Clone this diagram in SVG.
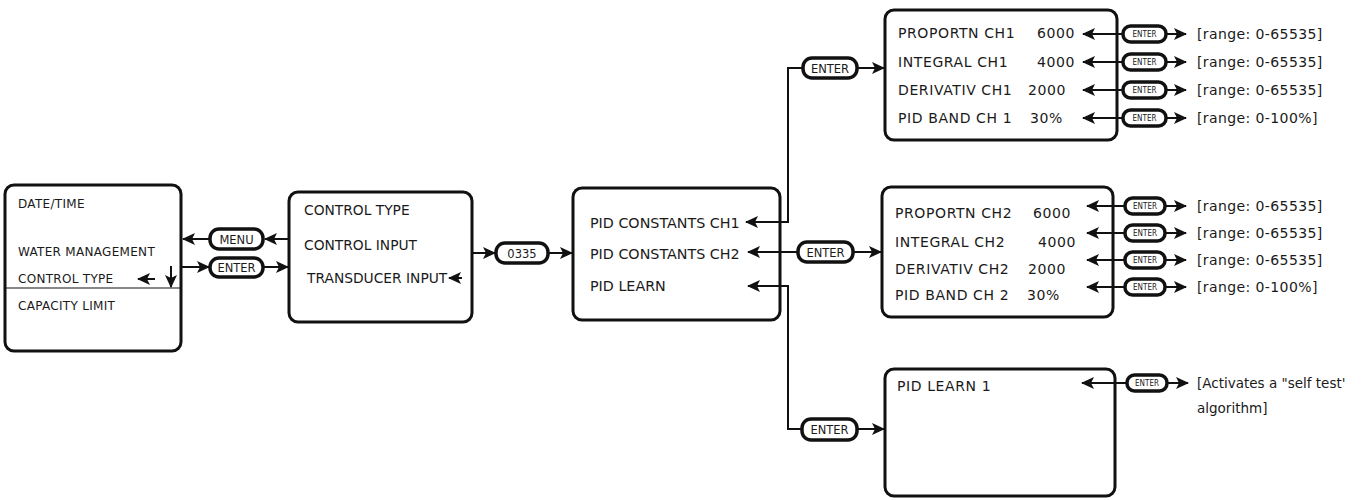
<svg xmlns="http://www.w3.org/2000/svg" width="1364" height="500" viewBox="0 0 1364 500">
<style>
.box{fill:#fff;stroke:#111;stroke-width:3}
.pill{fill:#fff;stroke:#111;stroke-width:3.5}
.t{font-family:"DejaVu Sans","Liberation Sans",sans-serif;fill:#1a1a1a}
.s11{font-size:12px;letter-spacing:0.3px}
.s12{font-size:14px;letter-spacing:0.6px}
.s13{font-size:13.8px}
.s14{font-size:14.3px}
.r{font-size:14px;letter-spacing:0.4px}
.a{font-size:13.5px}
.pt{font-family:"DejaVu Sans","Liberation Sans",sans-serif;font-size:11.5px;fill:#1a1a1a;text-anchor:middle}
.sp{font-family:"DejaVu Sans Condensed","DejaVu Sans",sans-serif;font-size:8px;fill:#1a1a1a;text-anchor:middle}
.c line,.c path{stroke:#111;stroke-width:2;fill:none}
</style>
<defs>
<marker id="ah" markerUnits="userSpaceOnUse" markerWidth="14" markerHeight="12" refX="12" refY="6" orient="auto">
<path d="M0,0 L13,6 L0,12 L3,6 z" fill="#111"/>
</marker>
</defs>
<rect width="1364" height="500" fill="#fff"/>

<g id="box1">
<rect class="box" x="5" y="185" width="176" height="166" rx="9"/>
<line x1="5" y1="288" x2="181" y2="288" stroke="#111" stroke-width="1.2"/>
<text class="t s11" x="18" y="208">DATE/TIME</text>
<text class="t s11" x="18" y="256">WATER MANAGEMENT</text>
<text class="t s11" x="18" y="283">CONTROL TYPE</text>
<text class="t s11" x="18" y="310">CAPACITY LIMIT</text>
</g>

<g id="menu">
<rect class="pill" x="210" y="229" width="53" height="20" rx="9"/>
<text class="pt" x="236.5" y="243.5">MENU</text>
</g>
<g id="enter-left">
<rect class="pill" x="210" y="258" width="53" height="19" rx="9"/>
<text class="pt" x="236.5" y="272">ENTER</text>
</g>

<g id="box2">
<rect class="box" x="289" y="192" width="183" height="130" rx="9"/>
<text class="t s13" x="304" y="215">CONTROL TYPE</text>
<text class="t s13" x="304" y="250">CONTROL INPUT</text>
<text class="t s13" x="307" y="283">TRANSDUCER INPUT</text>
</g>

<g id="code">
<rect class="pill" x="496" y="243" width="52" height="20" rx="9"/>
<text class="pt" x="522" y="257.5">0335</text>
</g>

<g id="box3">
<rect class="box" x="573" y="188" width="207" height="132" rx="9"/>
<text class="t s14" x="590" y="228">PID CONSTANTS CH1</text>
<text class="t s14" x="590" y="259">PID CONSTANTS CH2</text>
<text class="t s14" x="590" y="291">PID LEARN</text>
</g>

<g id="enter-ch1">
<rect class="pill" x="803" y="58" width="54" height="20" rx="9"/>
<text class="pt" x="830" y="72.5">ENTER</text>
</g>
<g id="enter-ch2">
<rect class="pill" x="798" y="242" width="55" height="20" rx="9"/>
<text class="pt" x="825.5" y="256.5">ENTER</text>
</g>
<g id="enter-learn">
<rect class="pill" x="802" y="419" width="55" height="21" rx="9"/>
<text class="pt" x="829.5" y="434">ENTER</text>
</g>

<g id="box-ch1">
<rect class="box" x="885" y="10" width="232" height="130" rx="9"/>
<text class="t s12" x="898" y="38">PROPORTN CH1</text>
<text class="t s12" x="1037" y="38">6000</text>
<text class="t s12" x="898" y="67">INTEGRAL CH1</text>
<text class="t s12" x="1037" y="67">4000</text>
<text class="t s12" x="898" y="95">DERIVATIV CH1</text>
<text class="t s12" x="1028" y="95">2000</text>
<text class="t s12" x="898" y="123">PID BAND CH 1</text>
<text class="t s12" x="1030" y="123">30%</text>
</g>

<g id="ch1-enters">
<rect class="pill" x="1123" y="26" width="43" height="16" rx="7.5"/><text class="sp" x="1144.5" y="37">ENTER</text>
<rect class="pill" x="1123" y="54" width="43" height="16" rx="7.5"/><text class="sp" x="1144.5" y="65">ENTER</text>
<rect class="pill" x="1123" y="82" width="43" height="16" rx="7.5"/><text class="sp" x="1144.5" y="93">ENTER</text>
<rect class="pill" x="1123" y="110" width="43" height="16" rx="7.5"/><text class="sp" x="1144.5" y="121">ENTER</text>
<text class="t r" x="1197" y="39">[range: 0-65535]</text>
<text class="t r" x="1197" y="67">[range: 0-65535]</text>
<text class="t r" x="1197" y="95">[range: 0-65535]</text>
<text class="t r" x="1197" y="123">[range: 0-100%]</text>
</g>

<g id="box-ch2">
<rect class="box" x="882" y="187" width="231" height="130" rx="9"/>
<text class="t s12" x="895" y="218">PROPORTN CH2</text>
<text class="t s12" x="1033" y="218">6000</text>
<text class="t s12" x="895" y="247">INTEGRAL CH2</text>
<text class="t s12" x="1038" y="247">4000</text>
<text class="t s12" x="895" y="274">DERIVATIV CH2</text>
<text class="t s12" x="1028" y="274">2000</text>
<text class="t s12" x="895" y="300">PID BAND CH 2</text>
<text class="t s12" x="1027" y="300">30%</text>
</g>

<g id="ch2-enters">
<rect class="pill" x="1125" y="198" width="40" height="16" rx="7.5"/><text class="sp" x="1145" y="209">ENTER</text>
<rect class="pill" x="1125" y="225" width="40" height="16" rx="7.5"/><text class="sp" x="1145" y="236">ENTER</text>
<rect class="pill" x="1125" y="252" width="40" height="16" rx="7.5"/><text class="sp" x="1145" y="263">ENTER</text>
<rect class="pill" x="1125" y="279" width="40" height="16" rx="7.5"/><text class="sp" x="1145" y="290">ENTER</text>
<text class="t r" x="1197" y="211">[range: 0-65535]</text>
<text class="t r" x="1197" y="238">[range: 0-65535]</text>
<text class="t r" x="1197" y="265">[range: 0-65535]</text>
<text class="t r" x="1197" y="292">[range: 0-100%]</text>
</g>

<g id="box-learn">
<rect class="box" x="885" y="369" width="230" height="127" rx="9"/>
<text class="t s12" x="897" y="391">PID LEARN 1</text>
</g>

<g id="learn-enter">
<rect class="pill" x="1127" y="375" width="40" height="16" rx="7.5"/><text class="sp" x="1147" y="386">ENTER</text>
<text class="t a" x="1197" y="388">[Activates a "self test'</text>
<text class="t a" x="1197" y="413">algorithm]</text>
</g>

<g id="connectors" class="c">
<line x1="289" y1="239" x2="265" y2="239" marker-end="url(#ah)"/>
<line x1="210" y1="239" x2="183" y2="239" marker-end="url(#ah)"/>
<line x1="182" y1="267" x2="209" y2="267" marker-end="url(#ah)"/>
<line x1="264" y1="267" x2="288" y2="267" marker-end="url(#ah)"/>
<line x1="155" y1="279" x2="138" y2="279" marker-end="url(#ah)"/>
<line x1="171" y1="266" x2="171" y2="287" marker-end="url(#ah)"/>
<line x1="462" y1="278" x2="449" y2="278" marker-end="url(#ah)"/>
<line x1="472" y1="253" x2="495" y2="253" marker-end="url(#ah)"/>
<line x1="548" y1="253" x2="572" y2="253" marker-end="url(#ah)"/>
<path d="M803,68 L788,68 L788,222 L746,222" marker-end="url(#ah)"/>
<line x1="857" y1="68" x2="884" y2="68" marker-end="url(#ah)"/>
<line x1="798" y1="252" x2="748" y2="252" marker-end="url(#ah)"/>
<line x1="853" y1="252" x2="881" y2="252" marker-end="url(#ah)"/>
<path d="M802,429 L788,429 L788,286 L748,286" marker-end="url(#ah)"/>
<line x1="857" y1="429" x2="884" y2="429" marker-end="url(#ah)"/>
<line x1="1123" y1="34" x2="1083" y2="34" marker-end="url(#ah)"/>
<line x1="1166" y1="34" x2="1186" y2="34" marker-end="url(#ah)"/>
<line x1="1123" y1="62" x2="1083" y2="62" marker-end="url(#ah)"/>
<line x1="1166" y1="62" x2="1186" y2="62" marker-end="url(#ah)"/>
<line x1="1123" y1="90" x2="1083" y2="90" marker-end="url(#ah)"/>
<line x1="1166" y1="90" x2="1186" y2="90" marker-end="url(#ah)"/>
<line x1="1123" y1="118" x2="1083" y2="118" marker-end="url(#ah)"/>
<line x1="1166" y1="118" x2="1186" y2="118" marker-end="url(#ah)"/>
<line x1="1125" y1="206" x2="1087" y2="206" marker-end="url(#ah)"/>
<line x1="1165" y1="206" x2="1186" y2="206" marker-end="url(#ah)"/>
<line x1="1125" y1="233" x2="1087" y2="233" marker-end="url(#ah)"/>
<line x1="1165" y1="233" x2="1186" y2="233" marker-end="url(#ah)"/>
<line x1="1125" y1="260" x2="1087" y2="260" marker-end="url(#ah)"/>
<line x1="1165" y1="260" x2="1186" y2="260" marker-end="url(#ah)"/>
<line x1="1125" y1="287" x2="1087" y2="287" marker-end="url(#ah)"/>
<line x1="1165" y1="287" x2="1186" y2="287" marker-end="url(#ah)"/>
<line x1="1127" y1="383" x2="1082" y2="383" marker-end="url(#ah)"/>
<line x1="1167" y1="383" x2="1188" y2="383" marker-end="url(#ah)"/>
</g>
</svg>
